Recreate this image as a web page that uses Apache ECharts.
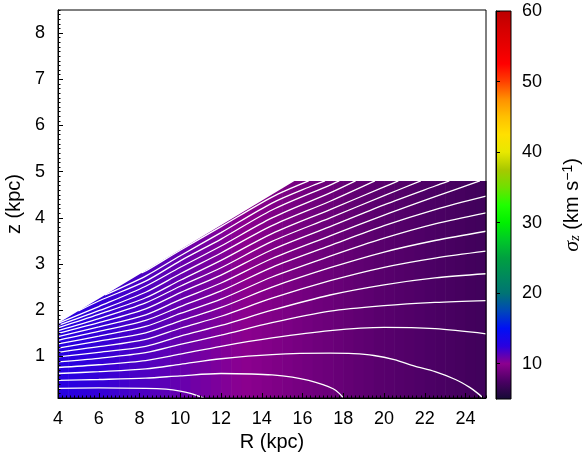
<!DOCTYPE html>
<html>
<head>
<meta charset="UTF-8">
<title>sigma_z (R, z)</title>
<script src="https://cdn.jsdelivr.net/npm/echarts@6/dist/echarts.min.js"></script>
<style>html,body{margin:0;padding:0;background:#fff}#chart{width:582px;height:459px}</style>
</head>
<body>
<div id="chart"></div>
<script>
var rBins = [4.25, 4.75, 5.25, 5.75, 6.25, 6.75, 7.25, 7.75, 8.25, 8.75, 9.25, 9.75,
  10.25, 10.75, 11.25, 11.75, 12.25, 12.75, 13.25, 13.75, 14.25, 14.75, 15.25, 15.75,
  16.25, 16.75, 17.25, 17.75, 18.25, 18.75, 19.25, 19.75, 20.25, 20.75, 21.25, 21.75,
  22.25, 22.75, 23.25, 23.75, 24.25, 24.75];
var sigmaZ = [12.6, 12.5, 12.4, 12.3, 12.2, 12.05, 11.9, 11.75, 11.6, 11.4, 11.25, 11.05,
  10.9, 10.7, 10.55, 10.4, 10.25, 10.1, 9.95, 9.8, 9.65, 9.5, 9.35, 9.2,
  9.05, 8.9, 8.75, 8.6, 8.45, 8.3, 8.2, 8.05, 7.95, 7.85, 7.75, 7.65,
  7.55, 7.45, 7.35, 7.25, 7.15, 7.05];
var binHalf = 0.25;
var zLow = 0.1, zHigh = 4.8;

// upper edge of the region with data
var edge = [[4, 1.72], [15.6, 4.8], [25, 4.8]];

// white contour lines [R, z]
var c01 = [[4,0.31],[6,0.32],[8.3,0.31],[9.3,0.29],[10,0.25],[10.5,0.2],[10.9,0.14],[11.15,0.1]];
var c02 = [[4,0.48],[6,0.5],[8.3,0.53],[10,0.58],[12,0.63],[13.5,0.62],[14.5,0.6],[15.5,0.55],[16.3,0.48],[17,0.39],[17.5,0.3],[17.8,0.2],[18,0.1]];
var c03 = [[4,0.63],[6,0.67],[8.3,0.73],[10,0.83],[12,0.95],[14.5,1.04],[17.35,1.07],[18.5,1.06],[19.5,1.02],[20.5,0.93],[21.5,0.79],[22.5,0.67],[23.5,0.5],[24.2,0.33],[24.6,0.2],[24.85,0.1]];
var c04 = [[4,0.76],[6,0.82],[8.3,0.91],[10,1.05],[12,1.22],[14.5,1.4],[17.35,1.56],[20,1.63],[22.5,1.6],[25,1.49]];
var c05 = [[4,0.88],[6,0.96],[8.3,1.08],[10,1.26],[12,1.46],[14.5,1.73],[17.35,1.98],[20,2.1],[22.5,2.17],[25,2.21]];
var c06 = [[4,0.99],[6,1.09],[8.3,1.22],[10,1.44],[12,1.67],[14.5,2.0],[17.35,2.33],[20,2.55],[22.5,2.7],[25,2.79]];
var c07 = [[4,1.09],[6,1.21],[8.3,1.37],[10,1.61],[12,1.87],[14.5,2.26],[17.35,2.64],[20,2.93],[22.5,3.13],[25,3.28]];
var c08 = [[4,1.18],[6,1.33],[8.3,1.51],[10,1.77],[12,2.06],[14.5,2.5],[17.35,2.92],[20,3.26],[22.5,3.51],[25,3.71]];
var c09 = [[4,1.27],[6,1.44],[8.3,1.65],[10,1.93],[12,2.24],[14.5,2.72],[17.35,3.17],[20,3.56],[22.5,3.87],[25,4.11]];
var c10 = [[4,1.35],[6,1.54],[8.3,1.78],[10,2.08],[12,2.42],[14.5,2.93],[17.35,3.4],[20,3.83],[22.5,4.18],[25,4.47]];
var c11 = [[4,1.43],[6,1.64],[8.3,1.9],[10,2.23],[12,2.59],[14.5,3.12],[17.35,3.61],[20,4.06],[22.5,4.46],[24.7,4.8]];
var c12 = [[4,1.5],[6,1.73],[8.3,2.03],[10,2.38],[12,2.76],[14.5,3.31],[17.35,3.81],[20,4.28],[22.5,4.69],[23.2,4.8]];
var c13 = [[4,1.56],[6,1.82],[8.3,2.16],[10,2.52],[12,2.92],[14.5,3.49],[17.35,4.0],[20,4.48],[21.8,4.8]];
var c14 = [[4,1.62],[6,1.91],[8.3,2.27],[10,2.65],[12,3.08],[14.5,3.66],[17.35,4.18],[20,4.67],[20.7,4.8]];
var c15 = [[4,1.67],[6,1.99],[8.3,2.39],[10,2.79],[12,3.24],[14.5,3.83],[17.35,4.36],[19.55,4.8]];
var c16 = [[4,1.715],[6,2.08],[8.3,2.52],[10,2.93],[12,3.39],[14.5,4.0],[17.35,4.54],[18.6,4.8]];
var c17 = [[5,1.985],[6,2.2],[8.3,2.63],[10,3.07],[12,3.54],[14.5,4.17],[17.35,4.71],[17.8,4.8]];
var c18 = [[6.3,2.33],[8.3,2.74],[10,3.18],[12,3.68],[14.5,4.32],[16.5,4.7],[17.1,4.8]];
var c19 = [[8.1,2.81],[8.3,2.85],[10,3.3],[12,3.81],[14.5,4.45],[16.3,4.8]];
var contours = [c01, c02, c03, c04, c05, c06, c07, c08, c09, c10,
  c11, c12, c13, c14, c15, c16, c17, c18, c19];

var xTicks = [4, 6, 8, 10, 12, 14, 16, 18, 20, 22, 24];
var zTicks = [1, 2, 3, 4, 5, 6, 7, 8];
var cbTicks = [10, 20, 30, 40, 50, 60];
var cbMin = 5, cbMax = 60;

// colour map, evenly spaced from 5 to 60 km/s
var cmap = ['#150a35', '#4b0064', '#8c008f', '#2a00df', '#0010f5', '#0048b8', '#007474',
  '#008a5a', '#00a040', '#00c828', '#00f000', '#20ff00', '#70e000', '#a8c800', '#e8e800',
  '#ffe000', '#ffc000', '#ff9000', '#ff4000', '#ff0000', '#e80000', '#d40000', '#bb0000'];

var FONT = 'Liberation Sans';
var heatData = rBins.map(function (r, i) { return [r - binHalf, r + binHalf, sigmaZ[i]]; });

var chart = echarts.init(document.getElementById('chart'));

var series = [{
  type: 'custom', xAxisIndex: 0, yAxisIndex: 0, z: 1, silent: true,
  data: heatData,
  renderItem: function (params, api) {
    var p0 = api.coord([api.value(0), zHigh]);
    var p1 = api.coord([api.value(1), zLow]);
    return {
      type: 'rect',
      shape: { x: p0[0], y: p0[1], width: p1[0] - p0[0] + 0.6, height: p1[1] - p0[1] },
      style: { fill: api.visual('color') }
    };
  }
}, {
  type: 'line', xAxisIndex: 0, yAxisIndex: 0, z: 2, silent: true,
  data: edge, symbol: 'none',
  lineStyle: { opacity: 0 },
  areaStyle: { color: '#fff', opacity: 1, origin: 'end' }
}];

contours.forEach(function (c) {
  series.push({
    type: 'line', xAxisIndex: 0, yAxisIndex: 0, z: 3, silent: true,
    data: c, symbol: 'none', smooth: 0.3,
    lineStyle: { color: '#fff', width: 1.3 }
  });
});

// colour bar
series.push({
  type: 'custom', xAxisIndex: 2, yAxisIndex: 2, z: 1, silent: true,
  data: [[0, cbMin, 1, cbMax]],
  renderItem: function (params, api) {
    var p0 = api.coord([api.value(0), api.value(3)]);
    var p1 = api.coord([api.value(2), api.value(1)]);
    var stops = cmap.map(function (c, i) { return { offset: i / (cmap.length - 1), color: c }; });
    return {
      type: 'rect',
      shape: { x: p0[0], y: p0[1], width: p1[0] - p0[0], height: p1[1] - p0[1] },
      style: { fill: new echarts.graphic.LinearGradient(0, 1, 0, 0, stops) }
    };
  }
});

var labelStyle = { color: '#000', fontSize: 18, fontFamily: FONT };
var nameStyle = { color: '#000', fontSize: 20, fontFamily: FONT };

chart.setOption({
  animation: false,
  backgroundColor: '#fff',
  grid: [
    { left: 58, top: 10, width: 428, height: 388, show: true, borderColor: '#000', borderWidth: 1, z: 10,
      backgroundColor: 'transparent', containLabel: false, outerBoundsMode: 'none' },
    { left: 496, top: 11, width: 15, height: 388, show: true, borderColor: '#000', borderWidth: 1, z: 10,
      backgroundColor: 'transparent', containLabel: false, outerBoundsMode: 'none' }
  ],
  visualMap: {
    type: 'continuous', show: false, seriesIndex: 0, dimension: 2,
    min: cbMin, max: cbMax, inRange: { color: cmap }
  },
  xAxis: [{
    gridIndex: 0, type: 'value', min: 4, max: 25, position: 'bottom', z: 10,
    axisLine: { show: true, onZero: false, lineStyle: { color: '#000', width: 1 } },
    axisTick: { show: true, inside: true, length: 5, customValues: xTicks, lineStyle: { color: '#000' } },
    axisLabel: Object.assign({ margin: 12, customValues: xTicks }, labelStyle),
    splitLine: { show: false },
    name: 'R (kpc)', nameLocation: 'middle', nameGap: 33,
    nameTextStyle: nameStyle
  }, {
    gridIndex: 0, type: 'value', min: 4, max: 25, interval: 0.2, position: 'bottom', z: 10,
    axisLine: { show: false },
    axisTick: { show: true, inside: true, length: 2.5, lineStyle: { color: '#000' } },
    axisLabel: { show: false }, splitLine: { show: false }
  }, {
    gridIndex: 1, type: 'value', min: 0, max: 1, show: false
  }],
  yAxis: [{
    gridIndex: 0, type: 'value', min: zLow, max: 8.5, position: 'left', z: 10,
    axisLine: { show: true, onZero: false, lineStyle: { color: '#000', width: 1 } },
    axisTick: { show: true, inside: true, length: 5, customValues: zTicks, lineStyle: { color: '#000' } },
    axisLabel: Object.assign({ margin: 13, customValues: zTicks }, labelStyle),
    splitLine: { show: false },
    name: 'z (kpc)', nameLocation: 'middle', nameGap: 32, nameRotate: 90,
    nameTextStyle: nameStyle
  }, {
    gridIndex: 0, type: 'value', min: zLow, max: 8.5, interval: 0.1, position: 'left', z: 10,
    axisLine: { show: false },
    axisTick: { show: true, inside: true, length: 2.5, lineStyle: { color: '#000' } },
    axisLabel: { show: false }, splitLine: { show: false }
  }, {
    gridIndex: 1, type: 'value', min: cbMin, max: cbMax, position: 'right', z: 10,
    axisLine: { show: true, lineStyle: { color: '#000', width: 1 } },
    axisTick: { show: true, inside: false, length: 4, customValues: cbTicks, lineStyle: { color: '#000' } },
    axisLabel: Object.assign({ margin: 11, customValues: cbTicks }, labelStyle),
    splitLine: { show: false },
    name: '{i|σ}{sub|z} (km s{sup|−1})', nameLocation: 'middle', nameGap: 50, nameRotate: 90,
    nameTextStyle: Object.assign({
      rich: {
        i: { fontFamily: 'Liberation Serif', fontStyle: 'italic', fontSize: 22, color: '#000', verticalAlign: 'middle' },
        sub: { fontFamily: 'Liberation Serif', fontStyle: 'italic', fontSize: 15, color: '#000', verticalAlign: 'bottom' },
        sup: { fontFamily: FONT, fontSize: 14, color: '#000', verticalAlign: 'top' }
      }
    }, nameStyle)
  }],
  series: series
});
</script>
</body>
</html>
